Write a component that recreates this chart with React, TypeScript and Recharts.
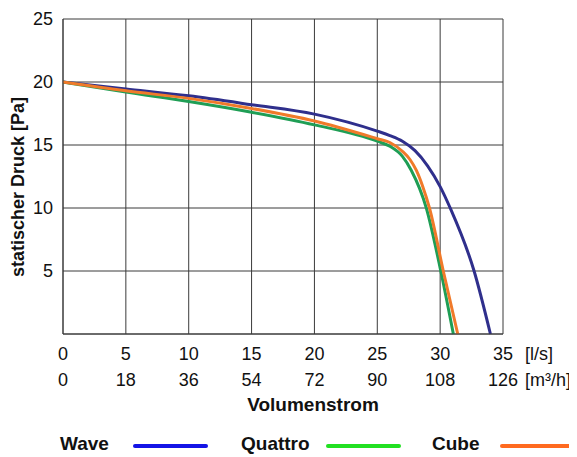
import React from 'react'
import { LineChart, Line, XAxis, YAxis, CartesianGrid } from 'recharts'

// l/s ticks and the matching m³/h labels
const flowTicks = [0, 5, 10, 15, 20, 25, 30, 35]
const m3hLabels = ['0', '18', '36', '54', '72', '90', '108', '126']
const pressureTicks = [0, 5, 10, 15, 20, 25]

const waveFlow = [0, 5, 10, 15, 20, 25, 26, 27, 28, 29, 30, 30.8, 32.7, 34]
const wavePressure = [20, 19.45, 18.9, 18.2, 17.45, 16.1, 15.75, 15.3, 14.55, 13.35, 11.7, 10, 5, 0]

const quattroFlow = [0, 5, 10, 15, 20, 25, 26, 27, 27.7, 28.9, 30.05, 31.05]
const quattroPressure = [20, 19.2, 18.45, 17.6, 16.6, 15.3, 14.9, 14.1, 13, 10, 5, 0]

const cubeFlow = [0, 5, 10, 15, 20, 25, 26, 27, 27.6, 28.1, 28.6, 29.15, 30.25, 31.4]
const cubePressure = [20, 19.3, 18.7, 17.9, 16.9, 15.5, 15.2, 14.5, 13.85, 13, 11.75, 10, 5, 0]

const toPoints = (flow: number[], pressure: number[]) =>
  flow.map((f, i) => ({ flow: f, pressure: pressure[i] }))

const series = [
  { name: 'Wave', data: toPoints(waveFlow, wavePressure), color: '#2f2f8c', legend: '#1414e6' },
  { name: 'Quattro', data: toPoints(quattroFlow, quattroPressure), color: '#1f9e55', legend: '#22e022' },
  { name: 'Cube', data: toPoints(cubeFlow, cubePressure), color: '#f07a2a', legend: '#ff6a20' },
]

const font = '"Liberation Sans", Arial, Helvetica, sans-serif'

function FlowTick(props: any) {
  const { x, y, payload, index } = props
  const last = payload.value === flowTicks[flowTicks.length - 1]
  return (
    <g>
      <text x={x} y={y + 24} textAnchor="middle" fontSize={18} fill="#111" fontFamily={font}>
        {payload.value}
      </text>
      <text x={x} y={y + 50} textAnchor="middle" fontSize={18} fill="#111" fontFamily={font}>
        {m3hLabels[index]}
      </text>
      {last && (
        <>
          <text x={x + 22} y={y + 24} fontSize={18} fill="#111" fontFamily={font}>[l/s]</text>
          <text x={x + 22} y={y + 50} fontSize={18} fill="#111" fontFamily={font}>[m³/h]</text>
        </>
      )}
    </g>
  )
}

function PressureTick(props: any) {
  const { x, y, payload } = props
  if (payload.value === 0) return <g />
  return (
    <text x={x - 8} y={y + 6} textAnchor="end" fontSize={18} fill="#111" fontFamily={font}>
      {payload.value}
    </text>
  )
}

export default function App() {
  return (
    <div style={{ position: 'relative', width: 569, height: 449, fontFamily: font, color: '#111' }}>
      <LineChart width={569} height={449} margin={{ top: 11, right: 74, left: 0, bottom: 63 }}>
        <CartesianGrid stroke="#3a3a3a" strokeWidth={1} />
        <XAxis
          dataKey="flow"
          type="number"
          domain={[0, 35]}
          ticks={flowTicks}
          tick={<FlowTick />}
          tickLine={false}
          tickSize={0}
          height={60}
          axisLine={{ stroke: '#3a3a3a' }}
          allowDataOverflow
        />
        <YAxis
          type="number"
          domain={[0, 25]}
          ticks={pressureTicks}
          tick={<PressureTick />}
          tickLine={false}
          tickSize={0}
          width={55}
          axisLine={{ stroke: '#3a3a3a' }}
        />
        {series.map((s) => (
          <Line
            key={s.name}
            data={s.data}
            dataKey="pressure"
            type="monotone"
            stroke={s.color}
            strokeWidth={3}
            dot={false}
            isAnimationActive={false}
          />
        ))}
      </LineChart>

      {/* axis titles */}
      <div
        style={{
          position: 'absolute',
          left: 10,
          top: 179,
          transform: 'translate(-50%, -50%) rotate(-90deg)',
          whiteSpace: 'nowrap',
          fontWeight: 'bold',
          fontSize: 18,
          lineHeight: '18px',
        }}
      >
        statischer Druck [Pa]
      </div>
      <div
        style={{
          position: 'absolute',
          left: 305,
          top: 396,
          transform: 'translate(-50%, -50%)',
          fontWeight: 'bold',
          fontSize: 19,
          lineHeight: '19px',
        }}
      >
        Volumenstrom
      </div>

      {/* legend */}
      {[
        { textX: 52, lineX: 125 },
        { textX: 233, lineX: 318 },
        { textX: 424, lineX: 492 },
      ].map((pos, i) => (
        <React.Fragment key={series[i].name}>
          <div
            style={{
              position: 'absolute',
              left: pos.textX,
              top: 426,
              fontWeight: 'bold',
              fontSize: 19,
              lineHeight: '19px',
            }}
          >
            {series[i].name}
          </div>
          <div
            style={{
              position: 'absolute',
              left: pos.lineX,
              top: 436,
              width: 75,
              height: 4,
              borderRadius: 2,
              background: series[i].legend,
            }}
          />
        </React.Fragment>
      ))}
    </div>
  )
}
